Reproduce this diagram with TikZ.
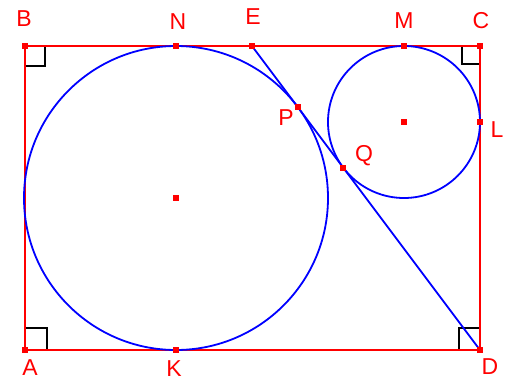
\documentclass[tikz,border=0pt]{standalone}
\usepackage{fontspec}
\setmainfont{Liberation Sans}
\begin{document}
\begin{tikzpicture}[x=1pt,y=-1pt,
  redline/.style={draw=red,line width=2pt},
  blueline/.style={draw=blue,line width=1.8pt},
  ramark/.style={draw=black,line width=1.8pt},
  pt/.style={fill=red,minimum size=6pt,inner sep=0pt,outer sep=0pt,shape=rectangle},
  lbl/.style={text=red,font=\fontsize{23}{27}\selectfont,inner sep=0pt}]
\useasboundingbox (0,0) rectangle (515,381);
% points
\coordinate (A) at (25,350);
\coordinate (B) at (25,46);
\coordinate (C) at (480,46);
\coordinate (D) at (480,350);
\coordinate (E) at (252,46);
\coordinate (O1) at (176,198);
\coordinate (O2) at (404,122);
\coordinate (N) at (176,46);
\coordinate (K) at (176,350);
\coordinate (M) at (404,46);
\coordinate (L) at (480,122);
\coordinate (P) at (297.6,106.8);
\coordinate (Q) at (343.2,167.6);
% right angle marks
\draw[ramark] (25,66) -- (45,66) -- (45,46);
\draw[ramark] (462,46) -- (462,64) -- (480,64);
\draw[ramark] (25,328) -- (47,328) -- (47,350);
\draw[ramark] (459,350) -- (459,328) -- (480,328);
% rectangle
\draw[redline] (A) -- (B) -- (C) -- (D) -- cycle;
% circles
\draw[blueline] (O1) circle[radius=152];
\draw[blueline] (O2) circle[radius=76];
% tangent line
\draw[blueline] (E) -- (D);
% point markers
\foreach \p in {A,B,C,D,E,N,K,M,L,P,Q,O1,O2}
  \node[pt] at (\p) {};
% labels
\node[lbl] (lB) at (24,19) {B};
\node[lbl] (lN) at (178,22) {N};
\node[lbl] (lE) at (253,17) {E};
\node[lbl] (lM) at (404,21) {M};
\node[lbl] (lC) at (481,21) {C};
\node[lbl] (lL) at (497,130) {L};
\node[lbl] (lP) at (286,118) {P};
\node[lbl] (lQ) at (364,156) {Q};
\node[lbl] (lA) at (30,368) {A};
\node[lbl] (lK) at (174,369) {K};
\node[lbl] (lD) at (490,367) {D};
\end{tikzpicture}
\end{document}
